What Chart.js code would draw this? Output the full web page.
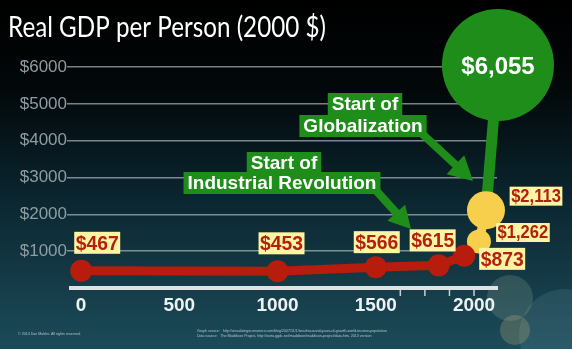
<!DOCTYPE html>
<html>
<head>
<meta charset="utf-8">
<script src="https://cdn.jsdelivr.net/npm/chart.js@4/dist/chart.umd.min.js"></script>
<style>
  html, body { margin: 0; padding: 0; background: #000; }
  #wrap { width: 572px; height: 349px; position: relative; }
</style>
</head>
<body>
<div id="wrap"><canvas id="gdpChart"></canvas></div>
<script>
// --- Data ---
const preYears = [1, 1000, 1500, 1820, 1950];
const preGdp = [467, 453, 566, 615, 873];
const modernYears = [1950, 2025, 2061];
const modernGdp = [873, 1262, 2113];
const todayYears = [2061, 2122];
const todayGdp = [2113, 6055];
const xTicks = [0, 500, 1000, 1500, 2000];
const xMinorTicks = [1625, 1750, 1875, 2000];
const yTicks = [0, 1000, 2000, 3000, 4000, 5000, 6000];

const RED = '#b71c0c';
const YELLOW = '#f7cf4d';
const GREEN = '#1f8d19';
const money = v => '$' + v.toLocaleString('en-US');
const toPts = (xs, ys) => xs.map((x, i) => ({ x: x, y: ys[i] }));

// --- Value tags: which point, offset of the tag centre, font size ---
const tags = [
    { ds: 0, i: 0, dx: 16, dy: -28, size: 21 },
    { ds: 0, i: 1, dx: 4, dy: -28, size: 21 },
    { ds: 0, i: 2, dx: 1, dy: -25, size: 21 },
    { ds: 0, i: 3, dx: -6, dy: -25, size: 21 },
    { ds: 0, i: 4, dx: 38, dy: 3, size: 21 },
    { ds: 1, i: 1, dx: 44, dy: -9, size: 18 },
    { ds: 1, i: 2, dx: 50, dy: -14, size: 18 }
];

function arrow(ctx, x0, y0, x1, y1, w, headLen, headW) {
    const a = Math.atan2(y1 - y0, x1 - x0);
    const len = Math.hypot(x1 - x0, y1 - y0);
    ctx.save();
    ctx.translate(x0, y0);
    ctx.rotate(a);
    ctx.beginPath();
    ctx.moveTo(0, -w / 2);
    ctx.lineTo(len - headLen, -w / 2);
    ctx.lineTo(len - headLen, -headW / 2);
    ctx.lineTo(len, 0);
    ctx.lineTo(len - headLen, headW / 2);
    ctx.lineTo(len - headLen, w / 2);
    ctx.lineTo(0, w / 2);
    ctx.closePath();
    ctx.fill();
    ctx.restore();
}

function greenBox(ctx, text, cx, top, h) {
    ctx.font = 'bold 19px "Liberation Sans", Arial, sans-serif';
    const w = ctx.measureText(text).width + 8;
    ctx.fillStyle = GREEN;
    ctx.fillRect(cx - w / 2, top, w, h);
    ctx.fillStyle = '#ffffff';
    ctx.textAlign = 'center';
    ctx.textBaseline = 'middle';
    ctx.fillText(text, cx, top + h / 2 + 1);
}

// --- Background, title and footer ---
const backdrop = {
    id: 'backdrop',
    beforeDraw(chart) {
        const { ctx, width, height } = chart;
        ctx.save();
        const g = ctx.createLinearGradient(0, 0, 0, height);
        g.addColorStop(0, '#000000');
        g.addColorStop(0.25, '#020709');
        g.addColorStop(0.6, '#0c2933');
        g.addColorStop(1, '#1c4b59');
        ctx.fillStyle = g;
        ctx.fillRect(0, 0, width, height);

        // soft light spots, bottom right
        [[565, 335, 46, 'rgba(110,150,165,0.2)'],
         [510, 298, 23, 'rgba(140,165,145,0.25)'],
         [515, 330, 15, 'rgba(175,170,120,0.3)']].forEach(c => {
            ctx.beginPath();
            ctx.arc(c[0], c[1], c[2], 0, Math.PI * 2);
            ctx.fillStyle = c[3];
            ctx.fill();
        });

        // title, squeezed a little to the width of the heading
        const title = 'Real GDP per Person (2000 $)';
        ctx.fillStyle = '#ffffff';
        ctx.font = '28px Lato, "Open Sans", sans-serif';
        ctx.textAlign = 'left';
        ctx.textBaseline = 'alphabetic';
        const sx = Math.min(1, 318 / ctx.measureText(title).width);
        ctx.save();
        ctx.translate(8, 37);
        ctx.scale(sx, 1);
        ctx.fillText(title, 0, 0);
        ctx.restore();

        ctx.fillStyle = 'rgba(215,225,230,0.75)';
        ctx.font = '3.6px "Liberation Sans", Arial, sans-serif';
        ctx.fillText('\u00a9 2014 Dan Mahler. All rights reserved.', 18, 335);
        ctx.fillText('Graph source:   http://visualizingeconomics.com/blog/2007/11/1/two-thousand-years-of-growth-world-income-population', 197, 332);
        ctx.fillText('Data source:   The Maddison Project, http://www.ggdc.net/maddison/maddison-project/data.htm, 2013 version', 197, 337);
        ctx.restore();
    },
    afterDraw(chart) {
        // small ticks on the time axis near the present
        const { ctx, chartArea } = chart;
        const xs = chart.scales.x;
        ctx.save();
        ctx.strokeStyle = '#c8d0d3';
        ctx.lineWidth = 1.5;
        xMinorTicks.forEach(v => {
            const px = xs.getPixelForValue(v);
            ctx.beginPath();
            ctx.moveTo(px, chartArea.bottom + 2);
            ctx.lineTo(px, chartArea.bottom + 8);
            ctx.stroke();
        });
        ctx.restore();
    }
};

// --- Arrows, captions and value tags ---
const callouts = {
    id: 'callouts',
    afterDatasetsDraw(chart) {
        const { ctx } = chart;
        ctx.save();
        ctx.fillStyle = GREEN;
        arrow(ctx, 372, 186, 411, 229, 8, 22, 24);
        arrow(ctx, 418, 130, 473, 181, 8, 24, 26);

        greenBox(ctx, 'Start of', 284, 152, 21);
        greenBox(ctx, 'Industrial Revolution', 282, 172, 22);
        greenBox(ctx, 'Start of', 365, 93, 22);
        greenBox(ctx, 'Globalization', 363, 115, 22);

        // big figure inside the green circle
        const top = chart.getDatasetMeta(2).data[1];
        ctx.fillStyle = '#ffffff';
        ctx.font = 'bold 24px "Liberation Sans", Arial, sans-serif';
        ctx.textAlign = 'center';
        ctx.textBaseline = 'middle';
        ctx.fillText(money(todayGdp[1]), top.x, top.y + 2);

        const sets = [preGdp, modernGdp];
        tags.forEach(t => {
            const p = chart.getDatasetMeta(t.ds).data[t.i];
            const text = money(sets[t.ds][t.i]);
            const cx = p.x + t.dx, cy = p.y + t.dy;
            ctx.font = 'bold ' + t.size + 'px "Liberation Sans", Arial, sans-serif';
            const w = ctx.measureText(text).width * 0.92 + 3;
            const h = t.size + 1;
            ctx.fillStyle = '#fdf5a4';
            ctx.fillRect(cx - w / 2, cy - h / 2, w, h);
            ctx.save();
            ctx.translate(cx, cy + 1);
            ctx.scale(0.92, 1);
            ctx.fillStyle = '#b3200f';
            ctx.fillText(text, 0, 0);
            ctx.restore();
        });
        ctx.restore();
    }
};

// --- Chart ---
const gdpChart = new Chart(document.getElementById('gdpChart'), {
    type: 'line',
    data: {
        datasets: [
            {
                data: toPts(preYears, preGdp),
                borderColor: RED,
                backgroundColor: RED,
                borderWidth: 9,
                pointRadius: 11,
                pointBorderWidth: 0,
                clip: false
            },
            {
                data: toPts(modernYears, modernGdp),
                borderColor: YELLOW,
                backgroundColor: YELLOW,
                borderWidth: 9,
                pointRadius: [0, 12, 19],
                pointBorderWidth: 0,
                clip: false
            },
            {
                data: toPts(todayYears, todayGdp),
                borderColor: GREEN,
                backgroundColor: GREEN,
                borderWidth: 11,
                pointRadius: [0, 56],
                pointBorderWidth: 0,
                clip: false
            }
        ]
    },
    options: {
        responsive: true,
        maintainAspectRatio: false,
        animation: false,
        events: [],
        layout: { padding: { top: 67, right: 75, left: 0, bottom: 0 } },
        plugins: { legend: { display: false }, tooltip: { enabled: false }, title: { display: false } },
        scales: {
            x: {
                type: 'linear',
                min: -51,
                max: 2117,
                afterBuildTicks: s => { s.ticks = xTicks.map(v => ({ value: v })); },
                afterFit: s => { s.height = 61; },
                grid: { color: 'transparent', drawTicks: false },
                border: { display: true, color: '#dde3e5', width: 4 },
                ticks: {
                    padding: 6,
                    color: '#eef1f2',
                    font: { family: '"Liberation Sans", Arial, sans-serif', size: 19, weight: 'bold' },
                    maxRotation: 0,
                    callback: v => String(v)
                }
            },
            y: {
                min: 0,
                max: 6000,
                afterBuildTicks: s => { s.ticks = yTicks.map(v => ({ value: v })); },
                afterFit: s => { s.width = 71; },
                grid: {
                    color: c => c.tick && c.tick.value === 0 ? 'transparent' : 'rgba(185,195,200,0.65)',
                    lineWidth: 1.5,
                    tickLength: 4
                },
                border: { display: false },
                ticks: {
                    padding: 0,
                    color: '#8e9da3',
                    font: { family: '"Liberation Sans", Arial, sans-serif', size: 17 },
                    callback: v => v === 0 ? '' : '$' + v
                }
            }
        }
    },
    plugins: [backdrop, callouts]
});
</script>
</body>
</html>
